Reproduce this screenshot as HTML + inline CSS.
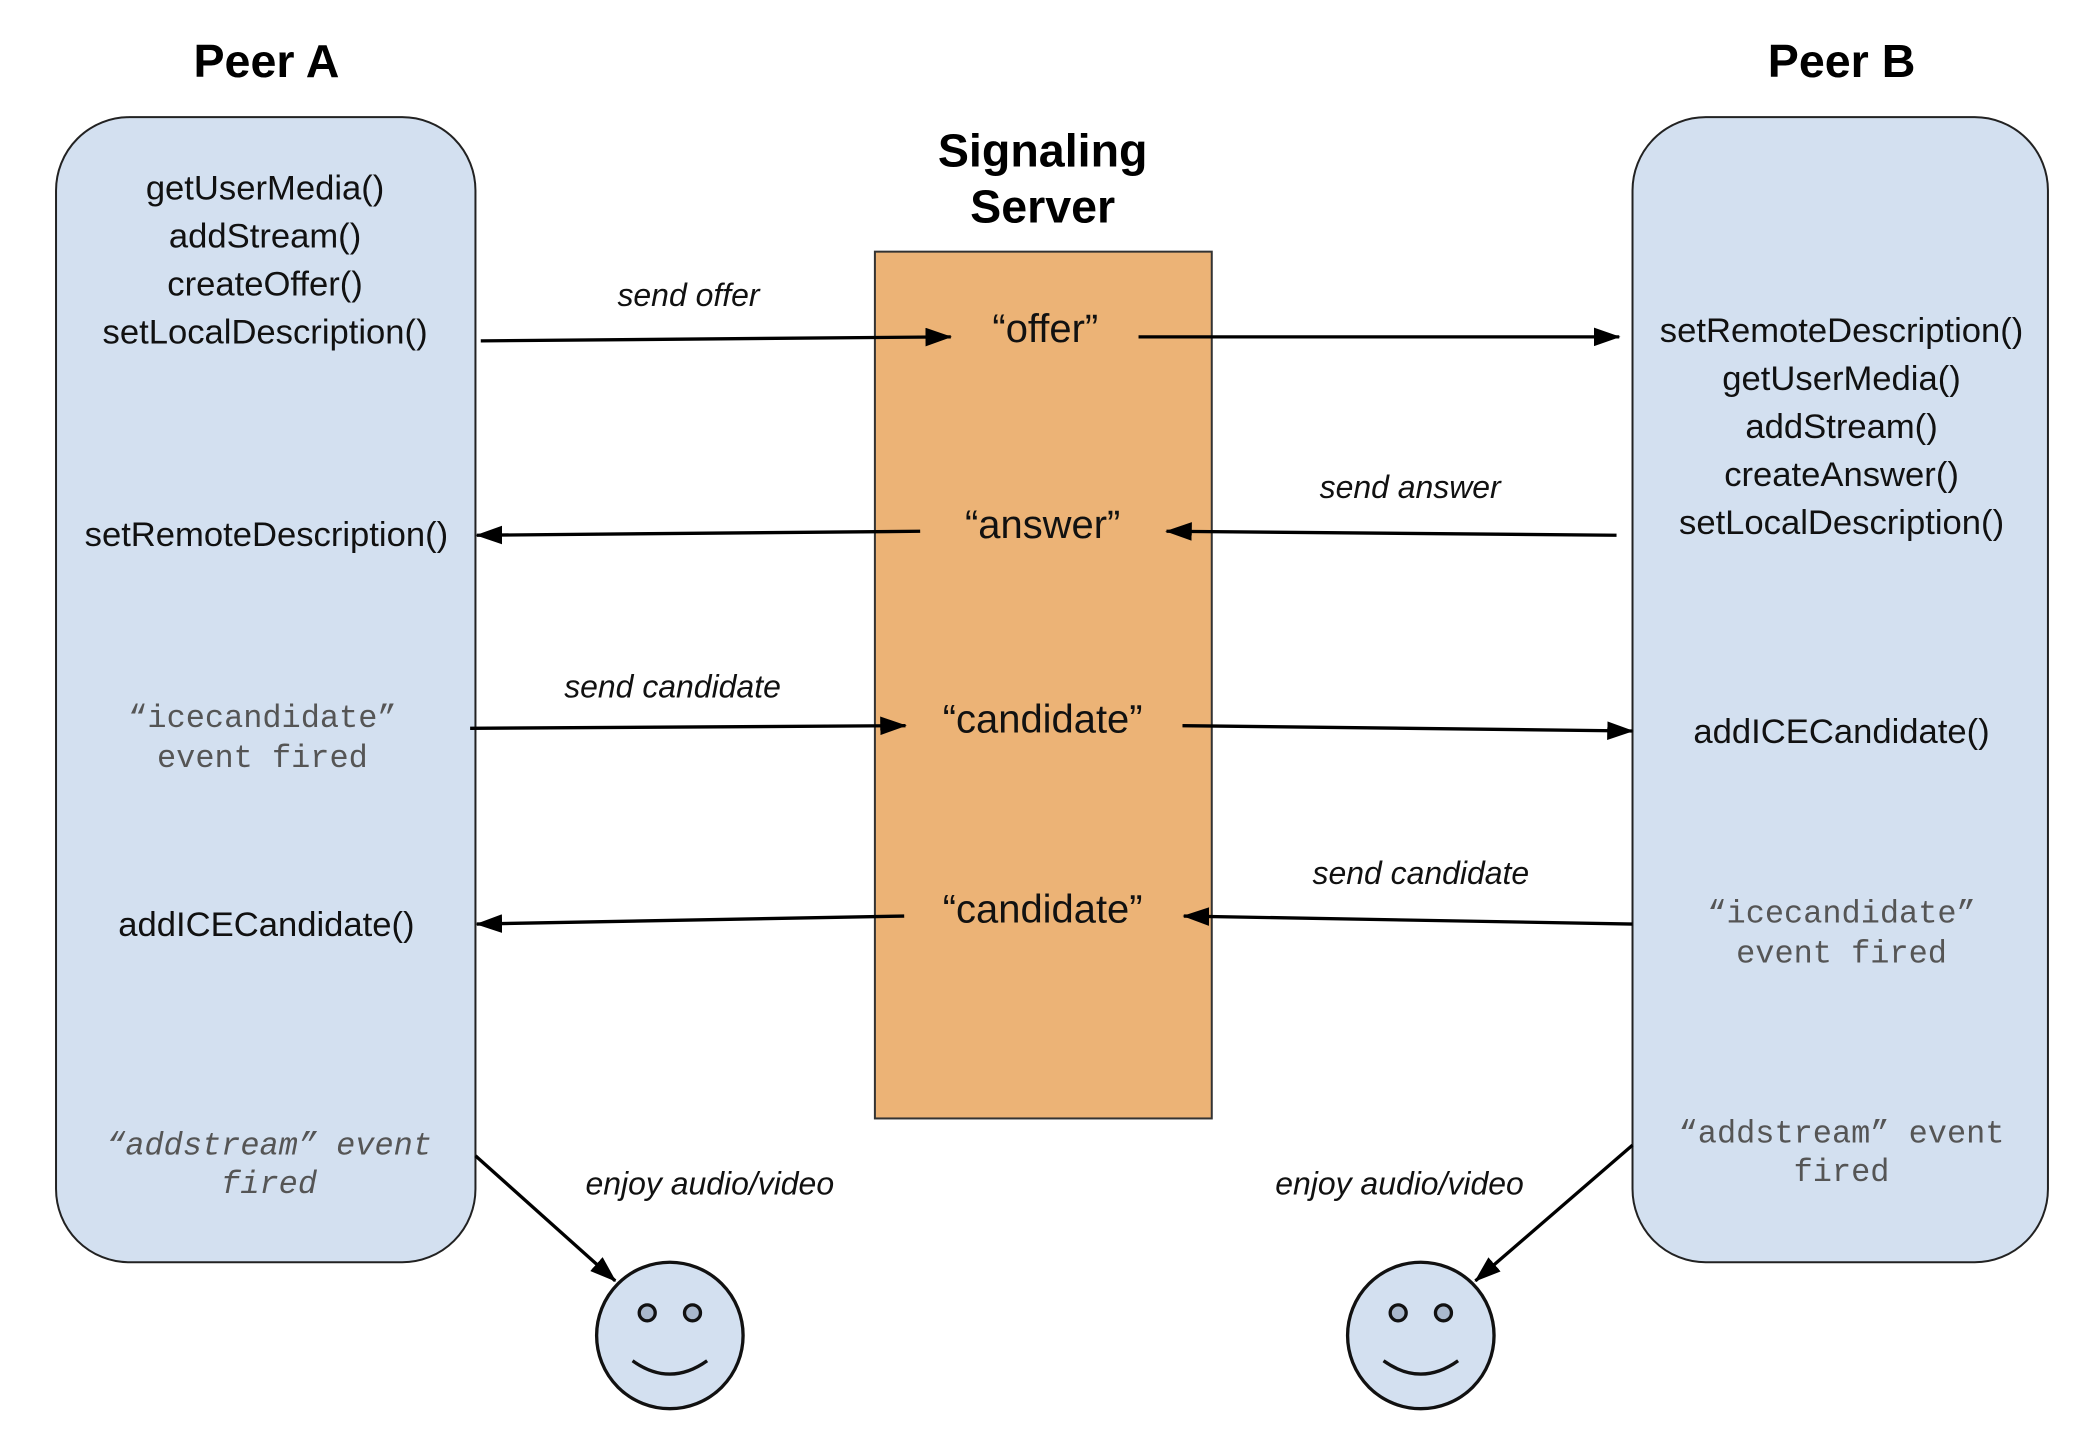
<!DOCTYPE html>
<html><head><meta charset="utf-8"><style>
html,body{margin:0;padding:0;background:#fff;}
svg{display:block;}
.t{font-family:"Liberation Sans",sans-serif;font-size:26px;fill:#111;text-anchor:middle;}
.h{font-family:"Liberation Sans",sans-serif;font-size:35px;font-weight:bold;fill:#000;text-anchor:middle;}
.q{font-family:"Liberation Sans",sans-serif;font-size:30px;fill:#111;text-anchor:middle;}
.i{font-family:"Liberation Sans",sans-serif;font-size:24px;font-style:italic;fill:#111;text-anchor:middle;}
.m{font-family:"Liberation Mono",monospace;font-size:24px;fill:#555;text-anchor:middle;}
.mi{font-family:"Liberation Mono",monospace;font-size:24px;fill:#555;text-anchor:middle;font-style:italic;}
.a{stroke:#000;stroke-width:2.5;fill:none;marker-end:url(#ar);}
</style></head><body>
<svg width="2088" height="1446" viewBox="0 0 1568 1086" xmlns="http://www.w3.org/2000/svg">
<defs>
<marker id="ar" viewBox="0 0 20 14" markerWidth="20" markerHeight="14" refX="19" refY="7" orient="auto" markerUnits="userSpaceOnUse"><path d="M0,0 L20,7 L0,14 z" fill="#000"/></marker></defs>
<rect width="1568" height="1086" fill="#fff"/>
<text class="h" x="200" y="58">Peer A</text>
<text class="h" x="1383" y="58">Peer B</text>
<text class="h" x="783" y="125">Signaling</text>
<text class="h" x="783" y="167">Server</text>
<rect x="42" y="88" width="315" height="860" rx="55" fill="#d3e0f0" stroke="#222" stroke-width="1.5"/>
<rect x="1226" y="88" width="312" height="860" rx="55" fill="#d3e0f0" stroke="#222" stroke-width="1.5"/>
<rect x="657" y="189" width="253" height="651" fill="#ecb376" stroke="#333" stroke-width="1.5"/>
<text class="t" x="199" y="150">getUserMedia()</text>
<text class="t" x="199" y="186">addStream()</text>
<text class="t" x="199" y="222">createOffer()</text>
<text class="t" x="199" y="258">setLocalDescription()</text>
<text class="t" x="200" y="410">setRemoteDescription()</text>
<text class="m" x="197" y="546">“icecandidate”</text>
<text class="m" x="197" y="576">event fired</text>
<text class="t" x="200" y="703">addICECandidate()</text>
<text class="mi" x="202" y="867">“addstream” event</text>
<text class="mi" x="202" y="896">fired</text>
<text class="t" x="1383" y="257">setRemoteDescription()</text>
<text class="t" x="1383" y="293">getUserMedia()</text>
<text class="t" x="1383" y="329">addStream()</text>
<text class="t" x="1383" y="365">createAnswer()</text>
<text class="t" x="1383" y="401">setLocalDescription()</text>
<text class="t" x="1383" y="558">addICECandidate()</text>
<text class="m" x="1383" y="693">“icecandidate”</text>
<text class="m" x="1383" y="723">event fired</text>
<text class="m" x="1383" y="858">“addstream” event</text>
<text class="m" x="1383" y="887">fired</text>
<text class="q" x="785" y="257">“offer”</text>
<text class="q" x="783" y="404">“answer”</text>
<text class="q" x="783" y="550">“candidate”</text>
<text class="q" x="783" y="693">“candidate”</text>
<text class="i" x="517" y="230">send offer</text>
<text class="i" x="1059" y="374">send answer</text>
<text class="i" x="505" y="524">send candidate</text>
<text class="i" x="1067" y="664">send candidate</text>
<text class="i" x="533" y="897">enjoy audio/video</text>
<text class="i" x="1051" y="897">enjoy audio/video</text>
<line class="a" x1="361" y1="256" x2="714" y2="253"/>
<line class="a" x1="855" y1="253" x2="1216" y2="253"/>
<line class="a" x1="1214" y1="402" x2="876" y2="399"/>
<line class="a" x1="691" y1="399" x2="358" y2="402"/>
<line class="a" x1="353" y1="547" x2="680" y2="545"/>
<line class="a" x1="888" y1="545" x2="1226" y2="549"/>
<line class="a" x1="1226" y1="694" x2="889" y2="688"/>
<line class="a" x1="679" y1="688" x2="358" y2="694"/>
<line class="a" x1="357" y1="868" x2="462" y2="962"/>
<line class="a" x1="1226" y1="860" x2="1108" y2="962"/>
<g stroke="#111" stroke-width="2.5" fill="#d3e0f0">
<circle cx="503" cy="1003" r="55"/>
<circle cx="1067" cy="1003" r="55"/>
<circle cx="486" cy="986" r="6" fill="#a9b8cc"/>
<circle cx="520" cy="986" r="6" fill="#a9b8cc"/>
<circle cx="1050" cy="986" r="6" fill="#a9b8cc"/>
<circle cx="1084" cy="986" r="6" fill="#a9b8cc"/>
<path d="M475,1022 Q503,1042 531,1022" fill="none"/>
<path d="M1039,1022 Q1067,1042 1095,1022" fill="none"/>
</g>
</svg>
</body></html>
